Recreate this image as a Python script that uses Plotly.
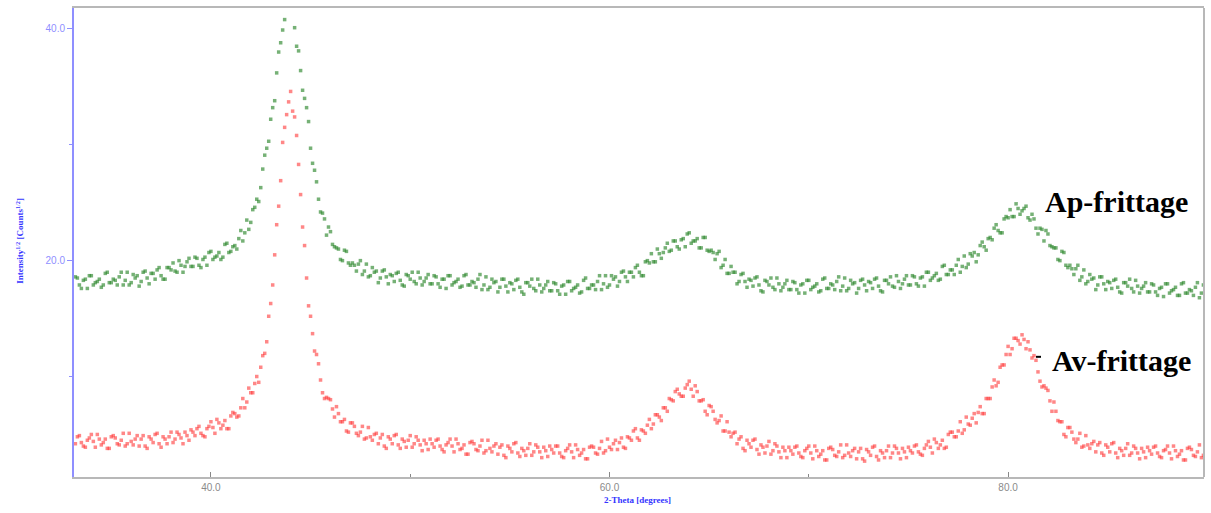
import numpy as np
import plotly.graph_objects as go

# Scan grid: 2-theta start and step (degrees); the scan is stored as two
# interleaved passes, the second offset by half a step.
SCAN_START = 33.2
SCAN_STEP = 0.2

# sqrt(counts) after sintering (Ap-frittage), main steps
ap_frittage = [
    18.6, 17.9, 18.3, 17.6, 18.7, 18.1, 18.4, 17.9, 19.0, 18.1,
    18.3, 18.6, 17.9, 19.0, 18.1, 18.5, 17.8, 19.0, 18.5, 18.9,
    18.4, 19.4, 18.4, 19.4, 19.2, 19.1, 20.0, 19.0, 19.9, 19.5,
    20.3, 19.6, 20.1, 19.6, 20.8, 20.3, 20.7, 20.3, 21.5, 20.8,
    21.3, 21.9, 21.7, 23.5, 23.3, 24.6, 25.1, 27.9, 29.7, 32.2,
    33.8, 38.0, 39.9, 42.8, 42.5, 40.1, 38.1, 34.7, 33.2, 29.7,
    27.8, 25.3, 24.1, 22.2, 22.5, 21.2, 21.0, 20.0, 20.8, 19.6,
    19.6, 19.7, 18.8, 19.7, 18.7, 19.0, 18.1, 19.1, 18.6, 18.8,
    18.2, 19.0, 17.9, 18.8, 18.4, 18.2, 19.0, 17.9, 18.5, 18.0,
    18.7, 18.0, 18.4, 17.6, 18.7, 18.1, 18.4, 17.8, 18.8, 17.9,
    18.1, 18.4, 17.5, 18.6, 17.7, 18.1, 17.3, 18.4, 17.8, 18.1,
    17.5, 18.4, 17.3, 18.1, 17.8, 17.6, 18.4, 17.3, 17.9, 17.4,
    18.1, 17.4, 17.8, 17.1, 18.2, 17.6, 17.9, 17.3, 18.5, 17.6,
    17.9, 18.2, 17.5, 18.7, 17.9, 18.4, 17.8, 19.0, 18.6, 19.0,
    18.6, 19.6, 18.7, 19.9, 19.8, 19.9, 21.0, 20.2, 21.1, 20.8,
    21.7, 21.2, 21.8, 21.2, 22.4, 21.7, 21.9, 21.1, 22.0, 20.8,
    20.7, 20.6, 19.4, 20.1, 18.9, 19.0, 18.0, 18.8, 18.2, 18.4,
    17.8, 18.6, 17.4, 18.3, 17.9, 17.7, 18.5, 17.4, 18.0, 17.5,
    18.2, 17.5, 17.9, 17.2, 18.3, 17.7, 18.0, 17.4, 18.5, 17.6,
    17.9, 18.2, 17.4, 18.5, 17.6, 18.0, 17.2, 18.3, 17.9, 18.2,
    17.6, 18.5, 17.4, 18.3, 18.0, 17.8, 18.7, 17.6, 18.4, 17.9,
    18.7, 18.0, 18.5, 17.8, 19.0, 18.5, 18.9, 18.4, 19.6, 18.8,
    19.2, 19.6, 19.0, 20.4, 19.7, 20.4, 19.9, 21.3, 21.2, 21.9,
    21.8, 23.1, 22.4, 23.6, 23.7, 23.8, 24.9, 24.0, 24.5, 23.7,
    24.0, 22.8, 22.8, 21.7, 22.3, 21.2, 21.1, 20.0, 20.7, 19.4,
    19.3, 19.3, 18.3, 19.2, 18.2, 18.4, 17.5, 18.6, 18.0, 18.2,
    17.6, 18.4, 17.3, 18.1, 17.8, 17.6, 18.3, 17.2, 17.8, 17.3,
    18.0, 17.3, 17.6, 16.9, 18.0, 17.4, 17.7, 17.0, 18.1, 17.2,
    17.4, 17.7, 16.8, 17.9,
]

# sqrt(counts) after sintering, half-step positions
ap_frittage_half = [
    18.5, 17.6, 18.4, 18.7, 17.9, 18.2, 17.7, 18.9, 18.1, 18.4,
    17.9, 19.0, 18.3, 17.9, 18.8, 18.7, 18.2, 19.1, 18.0, 18.9,
    19.2, 18.7, 18.4, 19.4, 19.8, 19.0, 19.6, 19.5, 20.2, 19.5,
    20.2, 19.4, 20.3, 20.7, 20.1, 20.4, 20.1, 21.4, 20.7, 21.2,
    21.0, 22.6, 22.4, 22.7, 24.4, 25.3, 26.3, 29.1, 30.3, 33.2,
    36.2, 38.8, 40.8, 42.9, 42.0, 38.5, 36.4, 34.0, 32.0, 28.4,
    26.8, 24.2, 23.6, 22.9, 21.4, 21.1, 20.1, 20.9, 19.8, 19.8,
    19.1, 20.0, 19.1, 18.6, 19.4, 19.1, 18.5, 19.2, 18.0, 18.7,
    18.9, 18.3, 17.8, 18.7, 19.0, 18.0, 18.5, 18.2, 18.8, 18.0,
    18.6, 17.7, 18.4, 18.7, 17.9, 18.2, 17.7, 18.7, 17.9, 18.2,
    17.7, 18.8, 17.9, 17.5, 18.4, 18.2, 17.7, 18.4, 17.3, 18.0,
    18.3, 17.7, 17.1, 18.1, 18.4, 17.4, 17.9, 17.6, 18.2, 17.4,
    18.0, 17.1, 17.9, 18.2, 17.4, 17.7, 17.2, 18.3, 17.6, 17.9,
    17.5, 18.7, 18.0, 17.7, 18.7, 18.6, 18.2, 19.1, 18.2, 19.0,
    19.4, 19.0, 18.7, 20.0, 20.6, 19.9, 20.6, 20.7, 21.5, 20.9,
    21.7, 21.0, 21.9, 22.3, 21.5, 21.7, 21.1, 22.0, 20.9, 20.9,
    20.1, 20.8, 19.6, 18.9, 19.5, 19.0, 18.2, 18.9, 17.7, 18.3,
    18.5, 17.9, 17.3, 18.2, 18.5, 17.5, 18.0, 17.7, 18.3, 17.5,
    18.1, 17.2, 18.0, 18.3, 17.5, 17.8, 17.3, 18.4, 17.6, 18.0,
    17.5, 18.6, 17.8, 17.4, 18.3, 18.1, 17.6, 18.4, 17.4, 18.1,
    18.4, 17.8, 17.3, 18.3, 18.6, 17.7, 18.2, 18.0, 18.7, 17.9,
    18.6, 17.8, 18.6, 19.0, 18.3, 18.7, 18.3, 19.5, 18.8, 19.2,
    18.8, 20.1, 19.5, 19.4, 20.6, 20.7, 20.5, 21.6, 20.9, 22.0,
    22.8, 22.6, 22.4, 23.8, 24.4, 23.8, 24.5, 24.3, 24.7, 23.5,
    23.6, 22.3, 22.7, 22.6, 21.3, 21.1, 20.1, 20.8, 19.6, 19.6,
    18.8, 19.6, 18.6, 18.0, 18.8, 18.5, 17.9, 18.6, 17.5, 18.1,
    18.3, 17.7, 17.2, 18.1, 18.4, 17.3, 17.8, 17.6, 18.1, 17.3,
    17.9, 17.0, 17.7, 18.0, 17.2, 17.5, 17.0, 18.0, 17.2, 17.5,
    17.0, 18.1, 17.2,
]

# sqrt(counts) before sintering (Av-frittage), main steps
av_frittage = [
    4.2, 4.9, 4.0, 4.5, 5.0, 3.9, 4.6, 4.3, 3.8, 4.8,
    4.7, 4.1, 5.1, 4.2, 4.4, 4.6, 4.0, 4.9, 3.8, 4.6,
    5.0, 4.2, 4.8, 4.2, 5.2, 4.6, 5.0, 4.2, 4.9, 5.4,
    4.9, 5.7, 4.9, 5.5, 6.1, 5.1, 6.0, 5.8, 5.5, 6.6,
    6.8, 6.6, 8.1, 7.8, 8.6, 9.4, 9.5, 11.8, 13.0, 16.3,
    20.5, 24.7, 30.2, 32.6, 34.6, 32.4, 28.3, 22.9, 18.5, 15.2,
    12.2, 11.1, 8.6, 8.2, 8.0, 6.5, 6.8, 6.1, 5.3, 6.0,
    5.7, 4.9, 5.7, 4.7, 4.8, 5.0, 4.2, 5.0, 3.8, 4.6,
    4.9, 4.1, 4.6, 3.9, 4.9, 4.2, 4.5, 3.6, 4.2, 4.6,
    3.9, 4.6, 3.7, 4.1, 4.6, 3.5, 4.2, 3.8, 3.3, 4.3,
    4.2, 3.6, 4.5, 3.6, 3.8, 4.0, 3.3, 4.1, 3.0, 3.8,
    4.2, 3.4, 3.8, 3.2, 4.2, 3.5, 3.9, 3.0, 3.6, 4.0,
    3.4, 4.0, 3.1, 3.6, 4.1, 3.0, 3.7, 3.4, 2.9, 3.9,
    3.9, 3.3, 4.4, 3.6, 3.9, 4.2, 3.7, 4.7, 3.8, 4.7,
    5.3, 4.7, 5.4, 5.1, 6.3, 5.9, 6.7, 6.2, 7.3, 8.1,
    7.9, 8.9, 8.3, 9.0, 9.6, 8.3, 8.7, 7.9, 7.0, 7.5,
    7.0, 6.0, 6.6, 5.3, 5.2, 5.1, 4.2, 4.8, 3.6, 4.2,
    4.5, 3.7, 4.1, 3.4, 4.4, 3.6, 4.0, 3.0, 3.6, 3.9,
    3.3, 4.0, 3.1, 3.6, 4.0, 2.9, 3.6, 3.3, 2.8, 3.8,
    3.7, 3.1, 4.1, 3.2, 3.4, 3.6, 2.9, 3.8, 2.7, 3.5,
    3.9, 3.1, 3.6, 3.0, 4.0, 3.4, 3.8, 2.9, 3.5, 3.9,
    3.4, 4.1, 3.3, 3.8, 4.4, 3.4, 4.3, 4.1, 3.8, 5.0,
    5.2, 4.8, 6.1, 5.4, 5.9, 6.4, 6.0, 7.4, 6.8, 8.1,
    9.1, 9.2, 10.8, 11.0, 12.6, 12.4, 13.3, 12.8, 13.2, 13.0,
    11.6, 11.4, 9.6, 9.2, 8.8, 7.0, 7.0, 6.1, 5.0, 5.6,
    5.2, 4.3, 5.1, 4.0, 4.1, 4.2, 3.5, 4.3, 3.2, 3.9,
    4.2, 3.4, 3.8, 3.2, 4.2, 3.4, 3.8, 2.9, 3.5, 3.9,
    3.3, 4.0, 3.1, 3.6, 4.0, 2.9, 3.6, 3.3, 2.8, 3.8,
    3.7, 3.1, 4.1, 3.2,
]

# sqrt(counts) before sintering, half-step positions
av_frittage_half = [
    4.8, 4.3, 3.9, 4.7, 4.4, 5.0, 4.1, 4.6, 3.8, 4.9,
    4.2, 4.5, 4.0, 5.1, 4.1, 4.9, 4.6, 4.0, 4.8, 4.3,
    5.1, 3.9, 4.6, 4.8, 4.3, 5.2, 4.7, 5.2, 4.5, 5.2,
    5.5, 5.1, 4.8, 5.7, 5.6, 6.3, 5.5, 6.2, 5.5, 6.9,
    6.5, 7.3, 7.3, 9.0, 8.6, 10.0, 10.8, 12.0, 15.2, 17.9,
    23.1, 26.9, 31.5, 33.7, 32.9, 30.8, 25.7, 21.3, 16.1, 13.7,
    11.9, 9.7, 8.1, 8.1, 7.2, 7.4, 6.1, 6.3, 5.2, 6.0,
    5.1, 5.2, 4.6, 5.6, 4.5, 5.1, 4.7, 4.0, 4.8, 4.2,
    5.0, 3.8, 4.4, 4.5, 3.9, 4.8, 4.1, 4.5, 3.7, 4.2,
    4.5, 4.0, 3.5, 4.3, 4.0, 4.6, 3.7, 4.1, 3.3, 4.4,
    3.7, 4.0, 3.4, 4.5, 3.5, 4.2, 3.9, 3.2, 4.0, 3.5,
    4.3, 3.1, 3.6, 3.8, 3.2, 4.1, 3.5, 3.9, 3.1, 3.7,
    4.0, 3.4, 3.0, 3.8, 3.5, 4.1, 3.2, 3.7, 2.9, 4.0,
    3.4, 3.8, 3.4, 4.6, 3.7, 4.5, 4.3, 3.9, 4.8, 4.5,
    5.5, 4.5, 5.3, 5.8, 5.5, 6.7, 6.5, 7.3, 7.0, 8.0,
    8.7, 8.5, 8.3, 9.3, 8.9, 9.2, 7.9, 8.0, 6.7, 7.4,
    6.3, 6.2, 5.3, 6.1, 4.8, 5.2, 4.6, 3.8, 4.5, 3.9,
    4.6, 3.3, 3.9, 4.0, 3.3, 4.2, 3.5, 3.9, 3.0, 3.6,
    3.9, 3.4, 3.0, 3.8, 3.4, 4.0, 3.1, 3.6, 2.8, 3.9,
    3.2, 3.5, 3.0, 4.1, 3.1, 3.8, 3.5, 2.9, 3.7, 3.2,
    4.0, 2.8, 3.4, 3.6, 3.0, 4.0, 3.4, 3.8, 3.0, 3.6,
    4.0, 3.5, 3.2, 4.1, 3.9, 4.6, 3.8, 4.5, 3.9, 5.2,
    4.8, 5.3, 5.1, 6.5, 5.8, 6.8, 6.9, 6.8, 8.1, 8.1,
    9.7, 9.5, 11.0, 11.9, 11.9, 13.3, 13.1, 13.6, 12.4, 12.3,
    11.8, 10.4, 9.1, 9.0, 7.9, 7.8, 6.2, 6.1, 4.8, 5.6,
    4.6, 4.6, 3.9, 4.9, 3.8, 4.4, 4.1, 3.4, 4.1, 3.5,
    4.3, 3.0, 3.6, 3.8, 3.2, 4.0, 3.4, 3.8, 3.0, 3.6,
    3.9, 3.4, 3.0, 3.7, 3.4, 4.0, 3.1, 3.6, 2.8, 3.9,
    3.2, 3.5, 3.0,
]

steps = np.round(SCAN_START + SCAN_STEP * np.arange(len(ap_frittage)), 1)
half_steps = np.round(steps[:len(ap_frittage_half)] + SCAN_STEP / 2, 2)
two_theta = np.concatenate([steps, half_steps])
ap_all = np.concatenate([ap_frittage, ap_frittage_half])
av_all = np.concatenate([av_frittage, av_frittage_half])

X_TICKS = [40, 60, 80]
Y_TICKS = [20, 40]

AXIS_BLUE = "#8f8fff"
FRAME_GREY = "#b8b8b8"

fig = go.Figure()

fig.add_trace(go.Scatter(
    x=two_theta, y=ap_all, mode="markers", name="Ap-frittage",
    marker=dict(symbol="square", size=3.5, color="rgba(45,135,45,0.65)",
                line=dict(width=0)),
))
fig.add_trace(go.Scatter(
    x=two_theta, y=av_all, mode="markers", name="Av-frittage",
    marker=dict(symbol="square", size=3.5, color="rgba(255,55,55,0.6)",
                line=dict(width=0)),
))

fig.update_xaxes(
    range=[33.13, 89.83], tickvals=X_TICKS, ticktext=[f"{v:.1f}" for v in X_TICKS],
    ticks="inside", ticklen=5, tickcolor="#888888", tickwidth=1,
    minor=dict(tickvals=[50, 70], ticks="inside", ticklen=3, tickcolor="#888888"),
    showline=True, linecolor=FRAME_GREY, linewidth=2, mirror=True,
    showgrid=False, zeroline=False,
    tickfont=dict(family="Liberation Sans", size=10, color="#8a8a8a"),
)
fig.update_yaxes(
    range=[1.33, 41.8], tickvals=Y_TICKS, ticktext=[f"{v:.1f}" for v in Y_TICKS],
    ticks="outside", ticklen=5, tickcolor=AXIS_BLUE, tickwidth=1,
    minor=dict(tickvals=[10, 30], ticks="outside", ticklen=3, tickcolor=AXIS_BLUE),
    showline=True, linecolor=AXIS_BLUE, linewidth=2,
    showgrid=False, zeroline=False,
    tickfont=dict(family="Liberation Sans", size=10, color=AXIS_BLUE),
)

# right-hand frame edge
fig.add_shape(type="line", xref="paper", yref="paper", x0=1, x1=1, y0=0, y1=1,
              line=dict(color=FRAME_GREY, width=2))

# short leader mark next to the lower label
fig.add_shape(type="line", x0=81.4, x1=81.65, y0=11.7, y1=11.7,
              line=dict(color="black", width=2))

label_font = dict(family="Liberation Serif", size=30, color="black")
fig.add_annotation(x=85.46, y=25.1, text="<b>Ap-frittage</b>", showarrow=False,
                   font=label_font, xanchor="center", yanchor="middle")
fig.add_annotation(x=85.71, y=11.4, text="<b>Av-frittage</b>", showarrow=False,
                   font=label_font, xanchor="center", yanchor="middle")

title_font = dict(family="Liberation Serif", size=9, color="#3535ff")
fig.add_annotation(xref="paper", yref="paper", x=0.499, y=-0.05,
                   text="<b>2-Theta [degrees]</b>", showarrow=False,
                   font=title_font, xanchor="center", yanchor="middle")
fig.add_annotation(xref="paper", yref="paper", x=-0.048, y=0.503,
                   text="<b>Intensity<sup>1/2</sup> [Counts<sup>1/2</sup>]</b>",
                   showarrow=False, textangle=-90,
                   font=title_font, xanchor="center", yanchor="middle")

fig.update_layout(
    width=1211, height=513,
    margin=dict(l=74, r=7, t=8, b=36),
    paper_bgcolor="white", plot_bgcolor="white",
    showlegend=False,
)

fig.write_html("out.html")
